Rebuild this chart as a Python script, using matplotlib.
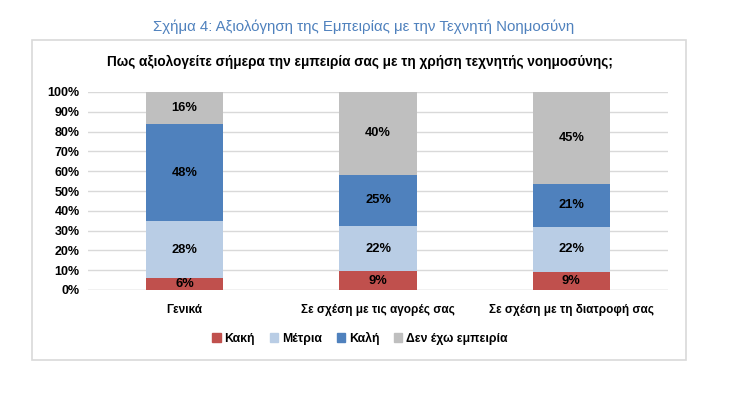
import matplotlib.pyplot as plt
import matplotlib.patches as mpatches
import numpy as np

plt.rcParams['font.family'] = ['Liberation Sans', 'DejaVu Sans']

categories = ['Γενικά', 'Σε σχέση με τις αγορές σας', 'Σε σχέση με τη διατροφή σας']
series = ['Κακή', 'Μέτρια', 'Καλή', 'Δεν έχω εμπειρία']
values = {
    'Κακή':             [6, 9, 9],
    'Μέτρια':           [28, 22, 22],
    'Καλή':             [48, 25, 21],
    'Δεν έχω εμπειρία': [16, 40, 45],
}
colors = ['#C0504D', '#B9CDE5', '#4F81BD', '#BFBFBF']
yticks = [0, 10, 20, 30, 40, 50, 60, 70, 80, 90, 100]

fig = plt.figure(figsize=(7.54, 3.95), dpi=100)

# outer frame
frame = mpatches.Rectangle((32 / 754, 1 - 360 / 395), (686 - 32) / 754, (360 - 40) / 395,
                           transform=fig.transFigure, facecolor='white',
                           edgecolor='#D9D9D9', linewidth=1.2, zorder=-5)
fig.patches.append(frame)

fig.text(364 / 754, 1 - 27 / 395, 'Σχήμα 4: Αξιολόγηση της Εμπειρίας με την Τεχνητή Νοημοσύνη',
         ha='center', va='center', fontsize=10.8, color='#4F81BD')
fig.text(360 / 754, 1 - 62 / 395, 'Πως αξιολογείτε σήμερα την εμπειρία σας με τη χρήση τεχνητής νοημοσύνης;',
         ha='center', va='center', fontsize=9.8, fontweight='bold', color='black')

ax = fig.add_axes([88 / 754, 1 - 290 / 395, (668 - 88) / 754, (290 - 92) / 395])
ax.set_facecolor('none')

x = np.arange(len(categories))
totals = np.sum([values[s] for s in series], axis=0)
bottom = np.zeros(len(categories))
for s, c in zip(series, colors):
    raw = np.array(values[s], dtype=float)
    share = raw / totals * 100
    ax.bar(x, share, 0.4, bottom=bottom, color=c, label=s, zorder=2)
    for xi, b, h, r in zip(x, bottom, share, raw):
        ax.text(xi, b + h / 2, f'{int(r)}%', ha='center', va='center',
                fontsize=9.3, fontweight='bold', color='black', zorder=3)
    bottom += share

ax.set_xlim(-0.5, 2.5)
ax.set_ylim(0, 100)
ax.set_yticks(yticks)
ax.set_yticklabels([f'{t}%' for t in yticks], fontsize=9, fontweight='bold')
ax.set_xticks(x)
ax.set_xticklabels(categories, fontsize=8.5, fontweight='bold')
ax.tick_params(axis='both', length=0, pad=6)
ax.tick_params(axis='x', pad=10)
ax.yaxis.grid(True, color='#D9D9D9', linewidth=1, zorder=0)
for sp in ax.spines.values():
    sp.set_visible(False)
ax.axhline(0, color='#D9D9D9', linewidth=1, zorder=1)

handles = [mpatches.Patch(color=c) for c in colors]
fig.legend(handles, series, loc='center', bbox_to_anchor=(360 / 754, 1 - 338 / 395),
           ncol=4, frameon=False, handlelength=0.7, handleheight=0.7,
           handletextpad=0.3, columnspacing=1.2,
           prop={'size': 8.8, 'weight': 'bold'})

fig.savefig('out.png', dpi=100)
